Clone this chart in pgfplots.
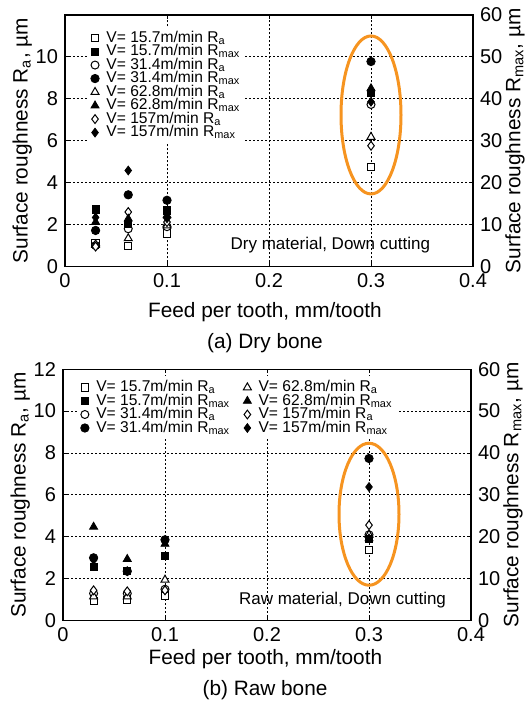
\documentclass[border=0pt]{standalone}
\usepackage{fontspec}
\setmainfont{Liberation Sans}
\usepackage{pgfplots}
\pgfplotsset{compat=1.18}

\definecolor{ringorange}{RGB}{246,148,32}

% 1 px of the reference = 0.5pt here
\pgfplotsset{
  rough/.style={
    scale only axis, width=204pt, height=125.75pt,
    xmin=0, xmax=0.4, ymin=0, ymax=12,
    xtick={0,0.1,0.2,0.3,0.4},
    /pgf/number format/assume math mode=true,
    tick label style={font=\fontsize{10}{12}\selectfont},
    label style={font=\fontsize{10.4}{12}\selectfont},
    major tick length=2pt,
    tick style={black, line width=0.5pt},
    axis line style={line width=0.6pt},
    grid style={black, line width=0.45pt, dash pattern=on 1pt off 1pt},
    legend cell align=left,
    legend image code/.code={\draw[##1] plot coordinates {(2.5pt,0pt)};},
  },
  sqo/.style={only marks, mark=square*, mark size=1.8pt, mark options={fill=white, draw=black, line width=0.5pt}},
  sqf/.style={only marks, mark=square*, mark size=1.8pt, mark options={fill=black, draw=black}},
  cio/.style={only marks, mark=*, mark size=2pt, mark options={fill=white, draw=black, line width=0.5pt}},
  cif/.style={only marks, mark=*, mark size=2.1pt, mark options={fill=black, draw=black}},
  tro/.style={only marks, mark=triangle*, mark size=2.3pt, mark options={fill=white, draw=black, line width=0.5pt}},
  trf/.style={only marks, mark=triangle*, mark size=2.3pt, mark options={fill=black, draw=black}},
  dio/.style={only marks, mark=diamond*, mark size=2.2pt, mark options={fill=white, draw=black, line width=0.5pt}},
  dif/.style={only marks, mark=diamond*, mark size=2.2pt, mark options={fill=black, draw=black}},
}

\newcommand{\Ra}{R\textsubscript{a}}
\newcommand{\Rmax}{R\textsubscript{max}}

\begin{document}
\begin{tikzpicture}
\useasboundingbox (0,0) rectangle (263pt,352.5pt);

% ---------------- (a) Dry bone ----------------
\begin{axis}[rough, at={(32.5pt,219.25pt)}, anchor=south west,
    ytick={0,2,4,6,8,10}, ytick pos=left,
    xmajorgrids, ymajorgrids, clip=false,
    xlabel={Feed per tooth, mm/tooth},
    xlabel style={at={(axis description cs:0.49,0)}, anchor=center, yshift=-22.75pt},
    ylabel={Surface roughness \Ra, µm},
    ylabel style={at={(axis description cs:-0.105,0.5)}, anchor=center},
    legend style={draw=none, fill=white, at={(axis description cs:0.055,0.955)},
      anchor=north west, font=\fontsize{7.8}{7.8}\selectfont,
      row sep=-1.6pt, inner sep=1.5pt, nodes={inner sep=0.6pt},
      /tikz/every odd column/.append style={column sep=3pt}},
  ]
  \addplot[sqo] coordinates {(0.03,1.10) (0.062,0.97) (0.1,1.57) (0.3,4.73)};
  \addlegendentry{V= 15.7m/min \Ra}
  \addlegendimage{sqf}
  \addlegendentry{V= 15.7m/min \Rmax}
  \addplot[cio] coordinates {(0.03,1.00) (0.062,1.80) (0.1,1.90) (0.3,7.73)};
  \addlegendentry{V= 31.4m/min \Ra}
  \addlegendimage{cif}
  \addlegendentry{V= 31.4m/min \Rmax}
  \addplot[tro] coordinates {(0.03,1.05) (0.062,1.34) (0.1,1.95) (0.3,6.18)};
  \addlegendentry{V= 62.8m/min \Ra}
  \addlegendimage{trf}
  \addlegendentry{V= 62.8m/min \Rmax}
  \addplot[dio] coordinates {(0.03,0.95) (0.062,2.60) (0.1,2.12) (0.3,5.76)};
  \addlegendentry{V= 157m/min \Ra}
  \addlegendimage{dif}
  \addlegendentry{V= 157m/min \Rmax}
  \draw[ringorange, line width=1.5pt] (axis cs:0.3,7.23) ellipse [x radius=15pt, y radius=39.5pt];
  \node[anchor=east, font=\fontsize{8.5}{10}\selectfont] at (axis description cs:0.912,0.0855) {Dry material, Down cutting};
\end{axis}
\begin{axis}[rough, at={(32.5pt,219.25pt)}, anchor=south west,
    ymin=0, ymax=60, ytick={0,10,20,30,40,50,60},
    axis y line*=right, axis x line=none,
    ylabel={Surface roughness \Rmax, µm},
    ylabel style={at={(axis description cs:1.103,0.5)}, anchor=center},
  ]
  \addplot[sqf] coordinates {(0.03,13.6) (0.062,10.2) (0.1,13.4) (0.3,41.5)};
  \addplot[cif] coordinates {(0.03,8.6) (0.062,17.1) (0.1,15.8) (0.3,48.9)};
  \addplot[trf] coordinates {(0.03,10.6) (0.062,11.4) (0.1,12.2) (0.3,42.5)};
  \addplot[dif] coordinates {(0.03,11.7) (0.062,22.9) (0.1,11.5) (0.3,39.3)};
\end{axis}
\node[font=\fontsize{10.4}{12}\selectfont] at (132.5pt,181pt) {(a) Dry bone};

% ---------------- (b) Raw bone ----------------
\begin{axis}[rough, at={(31.5pt,42.15pt)}, anchor=south west,
    ytick={0,2,4,6,8,10,12}, ytick pos=left,
    xmajorgrids, ymajorgrids, clip=false,
    xlabel={Feed per tooth, mm/tooth},
    xlabel style={at={(axis description cs:0.496,0)}, anchor=center, yshift=-19.15pt},
    ylabel={Surface roughness \Ra, µm},
    ylabel style={at={(axis description cs:-0.105,0.5)}, anchor=center},
    legend columns=4, transpose legend,
    legend style={draw=none, fill=white, at={(axis description cs:0.035,0.974)},
      anchor=north west, font=\fontsize{7.8}{7.8}\selectfont,
      row sep=-1.6pt, inner sep=1.5pt, nodes={inner sep=0.6pt},
      /tikz/every odd column/.append style={column sep=3pt},
      /tikz/every even column/.append style={column sep=6pt}},
  ]
  \addplot[sqo] coordinates {(0.03,0.95) (0.063,1.00) (0.1,1.20) (0.3,3.37)};
  \addlegendentry{V= 15.7m/min \Ra}
  \addlegendimage{sqf}
  \addlegendentry{V= 15.7m/min \Rmax}
  \addplot[cio] coordinates {(0.03,1.30) (0.063,1.30) (0.1,1.50) (0.3,4.10)};
  \addlegendentry{V= 31.4m/min \Ra}
  \addlegendimage{cif}
  \addlegendentry{V= 31.4m/min \Rmax}
  \addplot[tro] coordinates {(0.03,1.15) (0.063,1.15) (0.1,1.95) (0.3,4.10)};
  \addlegendentry{V= 62.8m/min \Ra}
  \addlegendimage{trf}
  \addlegendentry{V= 62.8m/min \Rmax}
  \addplot[dio] coordinates {(0.03,1.45) (0.063,1.40) (0.1,1.45) (0.3,4.56)};
  \addlegendentry{V= 157m/min \Ra}
  \addlegendimage{dif}
  \addlegendentry{V= 157m/min \Rmax}
  \draw[ringorange, line width=1.5pt] (axis cs:0.3,5.08) ellipse [x radius=15pt, y radius=35.5pt];
  \node[anchor=east, font=\fontsize{8.5}{10}\selectfont] at (axis description cs:0.956,0.082) {Raw material, Down cutting};
\end{axis}
\begin{axis}[rough, at={(31.5pt,42.15pt)}, anchor=south west,
    ymin=0, ymax=60, ytick={0,10,20,30,40,50,60},
    axis y line*=right, axis x line=none,
    ylabel={Surface roughness \Rmax, µm},
    ylabel style={at={(axis description cs:1.103,0.5)}, anchor=center},
  ]
  \addplot[cif] coordinates {(0.03,15.0) (0.063,11.8) (0.1,19.3) (0.3,38.7)};
  \addplot[dif] coordinates {(0.03,14.5) (0.063,11.8) (0.1,19.0) (0.3,31.9)};
  \addplot[trf] coordinates {(0.03,22.4) (0.063,14.7) (0.1,18.3) (0.3,19.6)};
  \addplot[sqf] coordinates {(0.03,12.9) (0.063,11.8) (0.1,15.4) (0.3,19.6)};
\end{axis}
\node[font=\fontsize{10.4}{12}\selectfont] at (132.5pt,7.5pt) {(b) Raw bone};
\end{tikzpicture}
\end{document}
